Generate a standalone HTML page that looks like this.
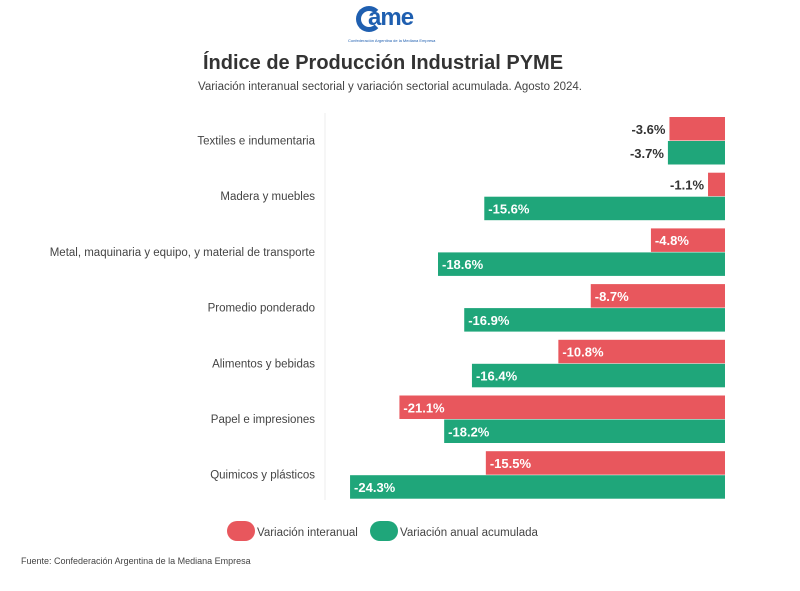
<!DOCTYPE html>
<html><head><meta charset="utf-8"><style>
body{margin:0;background:#fff;font-family:"Liberation Sans",sans-serif;}
#wrap{position:relative;width:800px;height:591px;overflow:hidden;background:#fff;}
.t{position:absolute;white-space:nowrap;}
</style></head><body>
<div id="wrap">
<div class="t" style="left:354px;top:4px;width:70px;height:40px;">
<div style="position:absolute;left:2px;top:2px;width:26px;height:26px;border:5px solid #1f5fb0;border-right-color:transparent;border-radius:50%;box-sizing:border-box;"></div>
<div style="position:absolute;left:14px;top:0px;font:bold 24px 'Liberation Sans',sans-serif;color:#1f5fb0;letter-spacing:-1px;">ame</div>
<div style="position:absolute;left:-6px;top:34px;font-size:4px;color:#1f5fb0;">Confederación Argentina de la Mediana Empresa</div>
</div>
<div class="t" style="left:0;width:766px;text-align:center;top:52px;font-size:20px;font-weight:bold;color:#333;">Índice de Producción Industrial PYME</div>
<div class="t" style="left:0;width:780px;text-align:center;top:81px;font-size:11.5px;color:#444;">Variación interanual sectorial y variación sectorial acumulada. Agosto 2024.</div>
<svg id="svg" width="800" height="591" style="position:absolute;left:0;top:0"></svg>
<div class="t" style="left:21px;top:556px;font-size:9px;color:#444;">Fuente: Confederación Argentina de la Mediana Empresa</div>
</div>
<script>
const categories=["Textiles e indumentaria","Madera y muebles","Metal, maquinaria y equipo, y material de transporte","Promedio ponderado","Alimentos y bebidas","Papel e impresiones","Quimicos y plásticos"];
const interanual=[-3.6,-1.1,-4.8,-8.7,-10.8,-21.1,-15.5];
const acumulada=[-3.7,-15.6,-18.6,-16.9,-16.4,-18.2,-24.3];
const seriesNames=["Variación interanual","Variación anual acumulada"];
const colors=["#e8575d","#1fa67a"];
const NS="http://www.w3.org/2000/svg";
const svg=document.getElementById('svg');
const x0=725,pxPer=15.43;
function xs(v){return x0+v*pxPer;}
function ys(i){return 117+i*55.7;}
const bh=23.5;
function mk(tag,attrs){const e=document.createElementNS(NS,tag);for(const k in attrs)e.setAttribute(k,attrs[k]);svg.appendChild(e);return e;}
const ax=mk('line',{x1:325,x2:325,y1:113,y2:500,stroke:'#eee','stroke-width':1});


categories.forEach((c,i)=>{
  const y=ys(i);
  const lab=mk('text',{x:315,y:y+bh+4,'text-anchor':'end','font-size':'11.5',fill:'#444','font-family':'Liberation Sans, sans-serif'});
  lab.textContent=c;
  
  
  [interanual[i],acumulada[i]].forEach((v,s)=>{
    const by=y+s*bh+s*0.5;
    const r=mk('rect',{x:xs(v),y:by,width:x0-xs(v),height:bh,fill:colors[s]});
    
    
    const inside=(x0-xs(v))>60;
    const t=mk('text',{x:inside?xs(v)+4:xs(v)-4,y:by+bh/2+5,'text-anchor':inside?'start':'end','font-size':'13','font-weight':'bold',fill:inside?'#fff':'#333','font-family':'Liberation Sans, sans-serif'});
    t.textContent=v.toFixed(1)+'%';
    
    
  });
});
const lx=[227,370];
seriesNames.forEach((n,s)=>{
  const r=mk('rect',{x:lx[s],y:521,width:28,height:20,rx:10,fill:colors[s]});
  
  
  const t=mk('text',{x:lx[s]+30,y:536,'font-size':'11.5',fill:'#444','font-family':'Liberation Sans, sans-serif'});
  t.textContent=n;
  
  
});
</script>
</body></html>
